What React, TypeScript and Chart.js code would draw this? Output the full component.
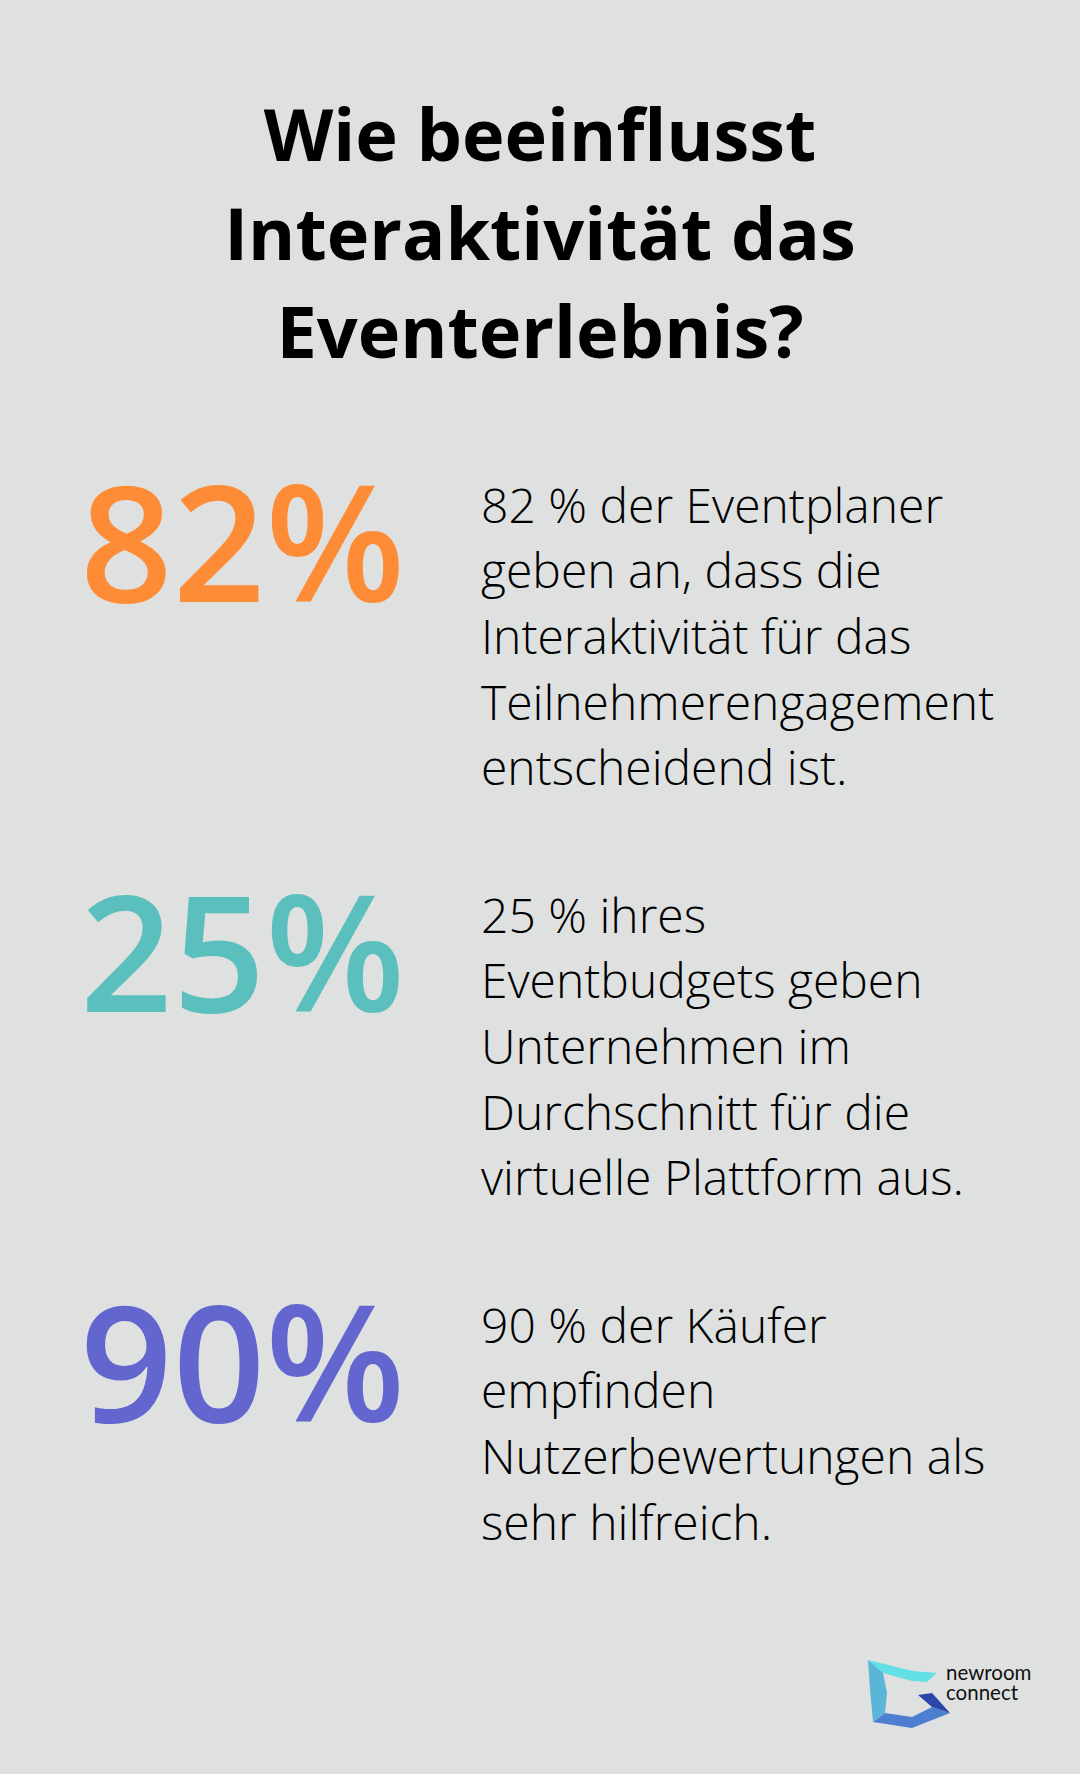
import React, { useEffect, useRef } from "react";
import { Chart, registerables } from "chart.js";

Chart.register(...registerables);

const titleLines = ["Wie beeinflusst", "Interaktivität das", "Eventerlebnis?"];
const statValues = [82, 25, 90];
const statColors = ["#FE8C37", "#5BBFBE", "#6366CF"];
const statTexts = [
  ["82 % der Eventplaner", "geben an, dass die", "Interaktivität für das", "Teilnehmerengagement", "entscheidend ist."],
  ["25 % ihres", "Eventbudgets geben", "Unternehmen im", "Durchschnitt für die", "virtuelle Plattform aus."],
  ["90 % der Käufer", "empfinden", "Nutzerbewertungen als", "sehr hilfreich."],
];

const BG = "#DFE1E0";
const NUM_FONT = 162;

export default function App() {
  const canvasRef = useRef<HTMLCanvasElement | null>(null);

  useEffect(() => {
    if (!canvasRef.current) return;
    const labelPlugin = {
      id: "bigNumbers",
      afterDatasetsDraw(chart: any) {
        const ctx = chart.ctx;
        const meta = chart.getDatasetMeta(0);
        ctx.save();
        ctx.font = `600 ${NUM_FONT}px "Open Sans"`;
        ctx.textAlign = "left";
        ctx.textBaseline = "alphabetic";
        meta.data.forEach((el: any, i: number) => {
          ctx.fillStyle = statColors[i];
          ctx.fillText(`${statValues[i]}%`, el.x, el.y + NUM_FONT * 0.357);
        });
        ctx.restore();
      },
    };
    const chart = new Chart(canvasRef.current, {
      type: "scatter",
      data: {
        datasets: [
          {
            data: statValues.map((_, i) => ({ x: 0, y: i })),
            pointRadius: 0,
            pointHoverRadius: 0,
            backgroundColor: statColors,
          },
        ],
      },
      options: {
        animation: false,
        responsive: false,
        maintainAspectRatio: false,
        events: [],
        layout: { padding: { left: 80, right: 0, top: 0, bottom: 0 } },
        plugins: { legend: { display: false }, tooltip: { enabled: false }, title: { display: false } },
        scales: {
          x: { type: "linear", min: 0, max: 1, display: false },
          y: { type: "linear", min: -0.5, max: statValues.length - 0.5, reverse: true, display: false },
        },
      },
      plugins: [labelPlugin],
    } as any);
    return () => chart.destroy();
  }, []);

  return (
    <div
      style={{
        position: "absolute",
        left: 0,
        top: 0,
        width: 1080,
        height: 1774,
        background: BG,
        overflow: "hidden",
        fontFamily: '"Open Sans", sans-serif',
        color: "#000",
      }}
    >
      <div
        style={{
          position: "absolute",
          top: 84,
          left: 0,
          width: 1080,
          textAlign: "center",
          fontWeight: 700,
          fontSize: 72,
          lineHeight: "98.5px",
        }}
      >
        {titleLines.map((l, i) => (
          <div key={i}>{l}</div>
        ))}
      </div>

      <canvas
        ref={canvasRef}
        width={460}
        height={1230}
        style={{ position: "absolute", left: 0, top: 339, width: 460, height: 1230 }}
      />

      {statTexts.map((lines, b) => (
        <div
          key={b}
          style={{
            position: "absolute",
            left: 481,
            top: 471.6 + b * 410,
            fontWeight: 300,
            fontSize: 48,
            lineHeight: "65.7px",
            whiteSpace: "nowrap",
          }}
        >
          {lines.map((l, i) => (
            <div key={i}>{l}</div>
          ))}
        </div>
      ))}

      <svg
        width={100}
        height={80}
        viewBox="860 1650 100 80"
        style={{ position: "absolute", left: 860, top: 1650 }}
      >
        <polygon points="868,1660 913,1671 937,1673 927,1682 912,1681 883,1673" fill="#63E0E6" />
        <polygon points="868,1660 883,1673 887,1693 885,1713 873,1722 870,1690" fill="#5BB5D6" />
        <polygon points="873,1722 885,1713 912,1717 932,1707 950,1713 912,1728" fill="#4C7FD0" />
        <polygon points="918,1695 932,1693 950,1713 932,1707" fill="#2C45A8" />
      </svg>
      <div
        style={{
          position: "absolute",
          left: 946,
          top: 1663,
          fontFamily: "Lato, sans-serif",
          fontSize: 20.5,
          lineHeight: "19.5px",
          color: "#111",
        }}
      >
        <div>newroom</div>
        <div>connect</div>
      </div>
    </div>
  );
}
